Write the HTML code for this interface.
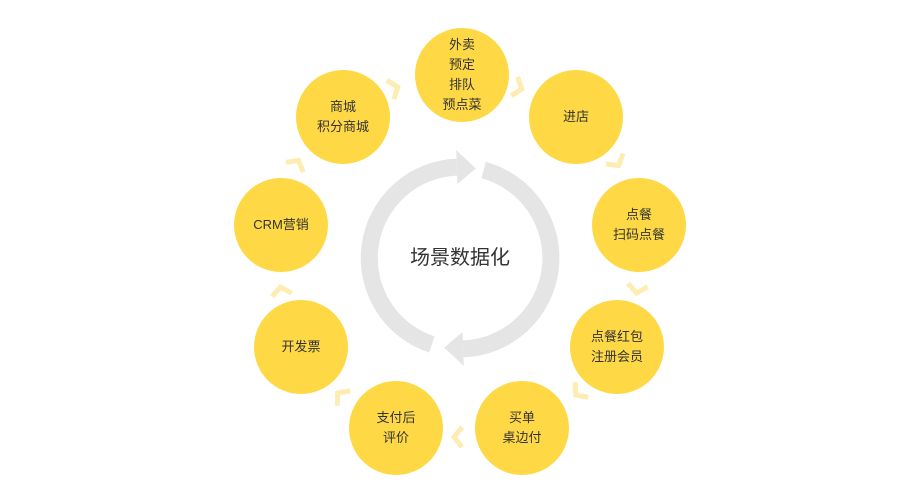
<!DOCTYPE html>
<html><head><meta charset="utf-8"><style>
html,body{margin:0;padding:0;background:#fff;}
body{width:920px;height:500px;overflow:hidden;position:relative;font-family:"Liberation Sans","Noto Sans CJK SC",sans-serif;}
.c{position:absolute;width:94px;height:94px;border-radius:50%;background:#fed945;display:flex;align-items:center;justify-content:center;text-align:center;font-size:13px;line-height:20px;color:#333;}
</style></head><body>
<svg width="920" height="500" style="position:absolute;left:0;top:0">
<g fill="none" stroke="#e5e5e5" stroke-width="17">
<path d="M483.6,170.1 A91,91 0 0 1 463.2,348.9"/>
<path d="M431.9,344.5 A91,91 0 0 1 456.8,167.1"/>
</g>
<g fill="#e5e5e5">
<polygon points="463.8,365.9 462.6,332.0 444.2,347.6"/>
<polygon points="456.2,150.1 457.4,184.0 475.8,168.4"/>
</g>
<g fill="none" stroke="#fdedb2" stroke-width="5" stroke-linejoin="miter">
<polyline transform="translate(395,88) rotate(-21)" points="-5,-10 3,0 -5,10"/>
<polyline transform="translate(519,88) rotate(19)" points="-5,-10 3,0 -5,10"/>
<polyline transform="translate(617,163) rotate(59)" points="-5,-10 3,0 -5,10"/>
<polyline transform="translate(637,290) rotate(100)" points="-5,-10 3,0 -5,10"/>
<polyline transform="translate(578,393) rotate(139)" points="-5,-10 3,0 -5,10"/>
<polyline transform="translate(457,437) rotate(181)" points="-5,-10 3,0 -5,10"/>
<polyline transform="translate(340,395) rotate(221)" points="-5,-10 3,0 -5,10"/>
<polyline transform="translate(281,290) rotate(260)" points="-5,-10 3,0 -5,10"/>
<polyline transform="translate(297,163) rotate(-60)" points="-5,-10 3,0 -5,10"/>
</g>
</svg>
<div style="position:absolute;left:360px;top:244px;width:200px;text-align:center;font-size:20px;color:#333;line-height:28px">场景数据化</div>
<div class="c" style="left:415px;top:28px">外卖<br>预定<br>排队<br>预点菜</div>
<div class="c" style="left:529px;top:70px">进店</div>
<div class="c" style="left:592px;top:178px">点餐<br>扫码点餐</div>
<div class="c" style="left:570px;top:300px">点餐红包<br>注册会员</div>
<div class="c" style="left:475px;top:381px">买单<br>桌边付</div>
<div class="c" style="left:349px;top:381px">支付后<br>评价</div>
<div class="c" style="left:254px;top:300px">开发票</div>
<div class="c" style="left:234px;top:178px">CRM营销</div>
<div class="c" style="left:296px;top:70px">商城<br>积分商城</div>
</body></html>
